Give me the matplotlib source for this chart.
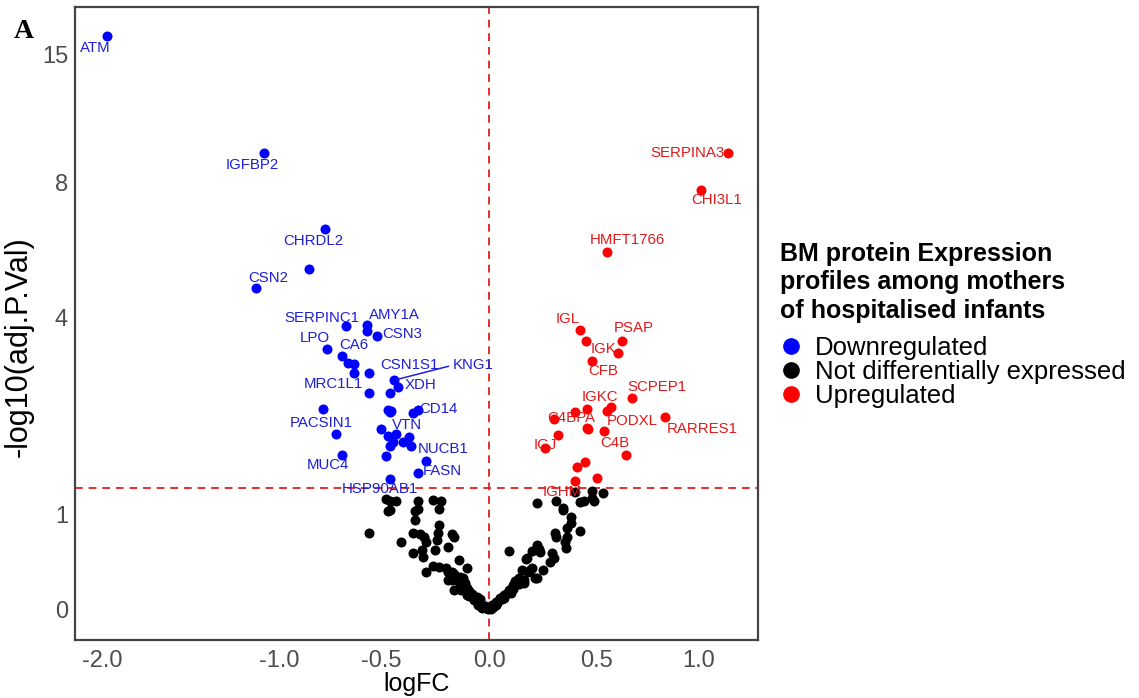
import matplotlib
matplotlib.use("Agg")
import matplotlib.pyplot as plt
import numpy as np

plt.rcParams["font.family"] = ["Liberation Sans", "DejaVu Sans"]
plt.rcParams["axes.unicode_minus"] = False

# significantly down-regulated proteins ("" = unlabelled)
down_genes = ["ATM", "IGFBP2", "CHRDL2", "", "CSN2", "SERPINC1", "AMY1A", "", "CSN3",
              "LPO", "CA6", "", "", "", "CSN1S1", "KNG1", "XDH", "MRC1L1", "",
              "", "", "", "CD14", "", "PACSIN1", "", "", "", "VTN", "", "", "", "",
              "", "", "MUC4", "NUCB1", "FASN", "HSP90AB1"]
down_logfc = [-1.97, -1.08, -0.77, -0.85, -1.12, -0.67, -0.57, -0.57, -0.52,
              -0.76, -0.69, -0.66, -0.63, -0.63, -0.56, -0.44, -0.42, -0.56, -0.46,
              -0.47, -0.46, -0.455, -0.35, -0.33, -0.78, -0.72, -0.50, -0.47, -0.43, -0.445, -0.46,
              -0.40, -0.37, -0.36, -0.48, -0.69, -0.29, -0.33, -0.46]
down_p = [16.4, 9.27, 6.35, 5.18, 4.69, 3.83, 3.85, 3.72, 3.62,
          3.37, 3.24, 3.11, 3.09, 2.93, 2.93, 2.81, 2.70, 2.60, 2.60,
          2.34, 2.31, 2.32, 2.29, 2.34, 2.35, 1.99, 2.06, 1.96, 1.99, 1.88, 1.83,
          1.88, 1.95, 1.83, 1.70, 1.71, 1.63, 1.48, 1.41]

# significantly up-regulated proteins
up_genes = ["SERPINA3", "CHI3L1", "HMFT1766", "IGL", "", "PSAP", "IGK", "CFB",
            "SCPEP1", "", "", "IGKC", "", "C4BPA", "RARRES1", "", "", "PODXL", "",
            "IGJ", "C4B", "", "", "IGHM", ""]
up_logfc = [1.15, 1.01, 0.55, 0.42, 0.45, 0.62, 0.60, 0.48,
            0.67, 0.57, 0.55, 0.455, 0.40, 0.30, 0.83, 0.455, 0.46, 0.535, 0.32,
            0.26, 0.64, 0.445, 0.41, 0.40, 0.50]
up_p = [9.27, 7.72, 5.65, 3.74, 3.52, 3.52, 3.29, 3.15,
        2.52, 2.38, 2.32, 2.35, 2.31, 2.20, 2.23, 2.07, 2.06, 2.03, 1.98,
        1.80, 1.71, 1.62, 1.56, 1.38, 1.42]

# proteins not differentially expressed
ns_logfc = [-0.48, -0.46, -0.43, -0.47, -0.46, -0.33, -0.34, -0.33, -0.34, -0.26,
            -0.22, -0.23, -0.23, -0.56, -0.41, -0.35, -0.32, -0.30, -0.29, -0.235,
            -0.24, -0.17, -0.16, -0.19, -0.31, -0.35, -0.305, -0.29, -0.26, -0.23,
            -0.20, -0.14, -0.10, -0.19, -0.17, -0.12, -0.16, -0.13, -0.10, -0.07,
            -0.05, -0.03, -0.005, -0.11, -0.09, -0.055, -0.04, -0.02, -0.12, -0.25,
            -0.17, -0.19, -0.12, -0.10, -0.09, -0.08, -0.065, -0.06, -0.045, -0.035,
            -0.03, -0.02, -0.012, -0.14, -0.15, -0.11, -0.135, -0.16, -0.13, -0.09,
            -0.07, -0.05, -0.04,
            0.22, 0.31, 0.34, 0.34, 0.40, 0.42, 0.44, 0.48, 0.48, 0.49,
            0.53, 0.38, 0.38, 0.36, 0.42, 0.305, 0.31, 0.36, 0.35, 0.355,
            0.22, 0.23, 0.20, 0.235, 0.09, 0.29, 0.30, 0.28, 0.17, 0.15,
            0.19, 0.25, 0.21, 0.14, 0.13, 0.16, 0.11, 0.09, 0.07, 0.05,
            0.03, 0.014, 0.20, 0.175, 0.11, 0.064, 0.037, 0.018, 0.18, 0.22,
            0.097, 0.045, 0.06, 0.08, 0.09, 0.11, 0.12, 0.10, 0.07, 0.03,
            0.02, 0.008, 0.13, 0.14, 0.16, 0.12]
ns_p = [1.17, 1.15, 1.15, 1.035, 1.046, 1.15, 1.035, 1.057, 0.934, 1.16,
        1.15, 1.057, 0.88, 0.79, 0.70, 0.79, 0.78, 0.75, 0.70, 0.79,
        0.72, 0.78, 0.75, 0.64, 0.61, 0.58, 0.54, 0.385, 0.446, 0.436,
        0.426, 0.51, 0.426, 0.30, 0.30, 0.283, 0.20, 0.20, 0.15, 0.12,
        0.07, 0.02, 0.005, 0.23, 0.18, 0.13, 0.08, 0.03, 0.32, 0.61,
        0.385, 0.385, 0.26, 0.22, 0.19, 0.16, 0.13, 0.10, 0.09, 0.06,
        0.05, 0.04, 0.02, 0.28, 0.31, 0.27, 0.33, 0.36, 0.24, 0.14,
        0.10, 0.05, 0.11,
        1.12, 1.15, 1.07, 1.05, 1.25, 1.14, 1.15, 1.26, 1.18, 1.15,
        1.24, 0.97, 0.90, 0.85, 0.81, 0.79, 0.75, 0.75, 0.70, 0.63,
        0.665, 0.62, 0.60, 0.59, 0.60, 0.58, 0.53, 0.49, 0.52, 0.405,
        0.405, 0.405, 0.32, 0.32, 0.27, 0.27, 0.23, 0.18, 0.15, 0.12,
        0.08, 0.05, 0.43, 0.53, 0.25, 0.13, 0.07, 0.03, 0.385, 0.32,
        0.18, 0.10, 0.11, 0.16, 0.20, 0.21, 0.25, 0.17, 0.12, 0.05,
        0.03, 0.01, 0.30, 0.26, 0.30, 0.29]

label_offsets = {
    "ATM": (-12, -12), "IGFBP2": (-12, -12), "CHRDL2": (-12, -12), "CSN2": (12, 10),
    "SERPINC1": (-24, 8), "AMY1A": (28, 10), "CSN3": (25, 2), "LPO": (-13, 11),
    "CA6": (12, 11), "CSN1S1": (41, 8), "KNG1": (79, 15), "XDH": (22, 2),
    "MRC1L1": (-35, 9), "CD14": (25, 4), "PACSIN1": (-2, -14), "VTN": (11, 9),
    "NUCB1": (17, 12), "MUC4": (-14, -10), "FASN": (25, 2), "HSP90AB1": (-10, -10),
    "SERPINA3": (-40, 0), "CHI3L1": (16, -10), "HMFT1766": (20, 12), "IGL": (-12, 11),
    "PSAP": (12, 13), "IGK": (-14, 4), "CFB": (11, -10), "SCPEP1": (25, 11),
    "IGKC": (13, 12), "C4BPA": (17, 1), "PODXL": (28, 10), "RARRES1": (37, -12),
    "C4B": (-11, 12), "IGJ": (0, 3), "IGHM": (-13, -11),
}

p_cut = -np.log10(0.05)
x_ticks = [-2.0, -1.0, -0.5, 0.0, 0.5, 1.0]
y_ticks = [0, 1, 4, 8, 15]


def fwd(v):
    return np.arcsinh(np.asarray(v) / 2.1)


def inv(t):
    return 2.1 * np.sinh(np.asarray(t))


fig = plt.figure(figsize=(11.39, 6.98), dpi=100)
ax = fig.add_axes([0.0658, 0.0831, 0.5997, 0.9069])
ax.set_xscale("function", functions=(fwd, inv))
ax.set_yscale("function", functions=(fwd, inv))

ax.scatter(ns_logfc, ns_p, s=52, color="black", linewidths=0, zorder=3)
ax.scatter(down_logfc, down_p, s=52, color="#0000ff", linewidths=0, zorder=3)
ax.scatter(up_logfc, up_p, s=52, color="#ff0000", linewidths=0, zorder=3)

for genes, xs, ys, col in [(down_genes, down_logfc, down_p, "#1f1fd6"),
                           (up_genes, up_logfc, up_p, "#e01b1b")]:
    for g, xv, yv in zip(genes, xs, ys):
        if not g:
            continue
        dx, dy = label_offsets[g]
        kw = {}
        if g == "KNG1":
            kw["arrowprops"] = dict(arrowstyle="-", color=col, lw=1.1,
                                    relpos=(0, 0.5), shrinkA=1, shrinkB=2)
        ax.annotate(g, (xv, yv), xytext=(dx, dy), textcoords="offset pixels",
                    ha="center", va="center", fontsize=10.8, color=col, zorder=4, **kw)

ax.axvline(0, color="#e03030", lw=1.4, ls=(0, (4, 3)), zorder=2)
ax.axhline(p_cut, color="#e03030", lw=1.4, ls=(0, (4, 3)), zorder=2)

ax.set_xlim(-2.18, 1.312)
ax.set_ylim(-0.303, 18.84)
ax.set_xticks(x_ticks)
ax.set_xticklabels([f"{t:.1f}" for t in x_ticks])
ax.set_yticks(y_ticks)
ax.set_yticklabels([str(t) for t in y_ticks])
ax.minorticks_off()
ax.tick_params(axis="x", length=0, labelsize=17, labelcolor="#4d4d4d", pad=7)
ax.tick_params(axis="y", length=0, labelsize=17, labelcolor="#4d4d4d", pad=5)
for s in ax.spines.values():
    s.set_linewidth(1.6)
    s.set_color("#444444")

ax.set_xlabel("logFC", fontsize=18, labelpad=0)
ax.set_ylabel("-log10(adj.P.Val)", fontsize=22)
ax.yaxis.set_label_coords(-0.061, 0.463)

# legend: bold multi-line heading plus the three status entries
fig.text(0.685, 0.653, "BM protein Expression\nprofiles among mothers\nof hospitalised infants",
         fontsize=18, fontweight="bold", va="top", ha="left", linespacing=1.22)
handles = [plt.Line2D([], [], ls="", marker="o", ms=11, color=c)
           for c in ["#0000ff", "black", "#ff0000"]]
fig.legend(handles, ["Downregulated", "Not differentially expressed", "Upregulated"],
           loc="upper left", bbox_to_anchor=(0.683, 0.518), frameon=False,
           fontsize=18.5, handletextpad=0.45, labelspacing=0.0,
           handlelength=1.0, borderaxespad=0, borderpad=0)

fig.text(0.012, 0.955, "A", fontsize=20, fontweight="bold", family="Liberation Serif",
         va="center")

fig.savefig("out.png", dpi=100)
